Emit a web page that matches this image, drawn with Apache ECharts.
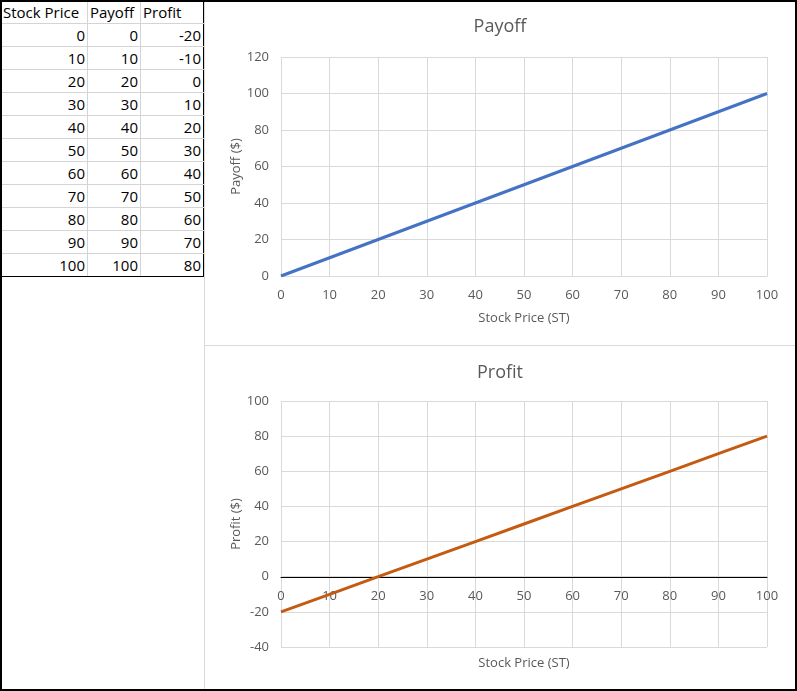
<!DOCTYPE html>
<html>
<head>
<meta charset="utf-8">
<script src="https://cdn.jsdelivr.net/npm/echarts@6/dist/echarts.min.js"></script>
<style>
    html, body { margin: 0; padding: 0; background: #fff; }
    #page { position: relative; width: 797px; height: 691px; overflow: hidden; font-family: "Open Sans", sans-serif; }
    #frame { position: absolute; left: 0; top: 0; width: 797px; height: 691px; box-sizing: border-box; border: 2px solid #000; pointer-events: none; z-index: 5; }
    #sheet { position: absolute; left: 0; top: 0; border-collapse: collapse; font-size: 15px; color: #000; border-right: 1px solid #000; border-bottom: 1px solid #000; table-layout: fixed; }
    #sheet td { border: 1px solid #d4d4d4; height: 22px; padding: 0 2px; line-height: 22px; text-align: right; box-sizing: border-box; white-space: nowrap; overflow: hidden; }
    #sheet tr:first-child td { text-align: left; }
    #sheet td:last-child { border-right: 1px solid #000; }
    #sheet tr:last-child td { border-bottom: 1px solid #000; }
    .vline { position: absolute; left: 204px; top: 0; width: 1px; height: 691px; background: #d9d9d9; }
    .hline { position: absolute; left: 204px; top: 345px; width: 593px; height: 1px; background: #d9d9d9; }
    #payoff { position: absolute; left: 205px; top: 0; width: 590px; height: 345px; }
    #profit { position: absolute; left: 205px; top: 346px; width: 590px; height: 343px; }
</style>
</head>
<body>
<div id="page">
    <table id="sheet"></table>
    <div class="vline"></div>
    <div class="hline"></div>
    <div id="payoff"></div>
    <div id="profit"></div>
    <div id="frame"></div>
</div>
<script>
// 表格与图表数据
const stockPrice = [0, 10, 20, 30, 40, 50, 60, 70, 80, 90, 100];
const payoff = [0, 10, 20, 30, 40, 50, 60, 70, 80, 90, 100];
const profit = [-20, -10, 0, 10, 20, 30, 40, 50, 60, 70, 80];
const headers = ['Stock Price', 'Payoff', 'Profit'];
const colWidths = [87, 53, 63];

// 左侧表格
function buildTable() {
    const table = document.getElementById('sheet');
    const head = document.createElement('tr');
    headers.forEach((h, i) => {
        const td = document.createElement('td');
        td.textContent = h;
        td.style.width = colWidths[i] + 'px';
        head.appendChild(td);
    });
    table.appendChild(head);
    stockPrice.forEach((s, i) => {
        const tr = document.createElement('tr');
        [s, payoff[i], profit[i]].forEach(v => {
            const td = document.createElement('td');
            td.textContent = v;
            tr.appendChild(td);
        });
        table.appendChild(tr);
    });
}

const font = '"Open Sans", sans-serif';
const labelColor = '#595959';
const gridColor = '#d9d9d9';

// xOffset: 横轴从网格底边上移到 y=0 处
function lineChart(id, title, yName, values, color, yMin, yMax, gridTop, gridHeight, zeroLine, xOffset, xNameGap) {
    const chart = echarts.init(document.getElementById(id));
    chart.setOption({
        animation: false,
        textStyle: { fontFamily: font },
        title: {
            text: title, left: 'center', top: 13,
            textStyle: { fontFamily: font, fontSize: 18, fontWeight: 'normal', color: labelColor }
        },
        grid: { left: 76, top: gridTop, width: 486, height: gridHeight, outerBoundsMode: 'none', containLabel: false },
        xAxis: {
            type: 'value', min: 0, max: 100, interval: 10,
            offset: xOffset,
            name: 'Stock Price (ST)', nameLocation: 'middle', nameGap: xNameGap,
            nameTextStyle: { fontFamily: font, fontSize: 13, color: labelColor },
            axisLine: { onZero: false, lineStyle: { color: zeroLine, width: 1 } },
            axisTick: { show: false },
            axisLabel: { fontFamily: font, fontSize: 13, color: labelColor, margin: 13 },
            splitLine: { show: true, lineStyle: { color: gridColor } }
        },
        yAxis: {
            type: 'value', min: yMin, max: yMax, interval: 20,
            name: yName, nameLocation: 'middle', nameGap: 38, nameRotate: 90,
            nameMoveOverlap: false,
            nameTextStyle: { fontFamily: font, fontSize: 13, color: labelColor },
            axisLine: { show: false },
            axisTick: { show: false },
            axisLabel: { fontFamily: font, fontSize: 13, color: labelColor, margin: 12 },
            splitLine: { lineStyle: { color: gridColor } }
        },
        series: [{
            type: 'line',
            data: stockPrice.map((s, i) => [s, values[i]]),
            symbol: 'none',
            lineStyle: { color: color, width: 3 },
            z: 3
        }]
    });
    return chart;
}

buildTable();
lineChart('payoff', 'Payoff', 'Payoff ($)', payoff, '#4472C4', 0, 120, 57, 219, gridColor, 0, 36);
lineChart('profit', 'Profit', 'Profit ($)', profit, '#C55A11', -40, 100, 55, 246, '#000000', -70, 80);
</script>
</body>
</html>
